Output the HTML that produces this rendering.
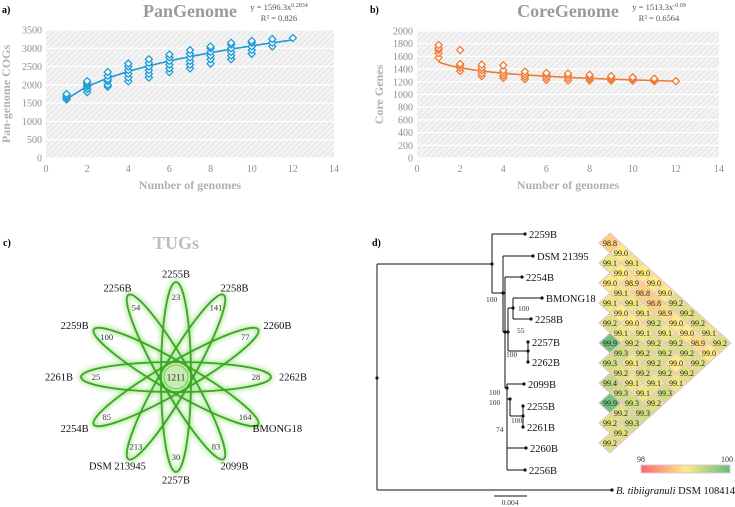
<!DOCTYPE html>
<html><head><meta charset="utf-8"><style>
html,body{margin:0;padding:0;background:#fff;}
svg{display:block;font-family:"Liberation Serif",serif;}
</style></head><body>
<svg id="fig" width="735" height="507" viewBox="0 0 735 507" xmlns="http://www.w3.org/2000/svg">
<defs>
<pattern id="hatch" width="4" height="4" patternUnits="userSpaceOnUse" patternTransform="rotate(45)">
<rect width="4" height="4" fill="#f3f3f3"/><line x1="0" y1="0" x2="0" y2="4" stroke="#d6d6d6" stroke-width="1"/></pattern>
<filter id="glow" x="-20%" y="-20%" width="140%" height="140%"><feGaussianBlur stdDeviation="2"/></filter>
<linearGradient id="cbar" x1="0" x2="1"><stop offset="0" stop-color="#f8696b"/><stop offset="0.5" stop-color="#ffeb84"/><stop offset="1" stop-color="#63be7b"/></linearGradient>
</defs>
<g font-weight="bold" font-size="10">
<text x="2" y="13">a)</text>
<text x="370" y="13">b)</text>
<text x="3" y="246">c)</text>
<text x="372" y="246">d)</text>
</g>
</svg>
<script>
const panN=[1,2,3,4,5,6,7,8,9,10,11,12];
const panVals=[[1600,1650,1700,1750],[1800,1880,1950,2000,2050,2100],[1950,2000,2100,2150,2250,2350],[2100,2200,2300,2400,2500,2580],[2200,2300,2400,2500,2600,2700],[2350,2450,2550,2650,2750,2830],[2450,2550,2650,2750,2850,2950],[2580,2700,2800,2900,3000,3050],[2700,2800,2900,3000,3100,3150],[2850,2950,3050,3150,3200],[3050,3150,3250],[3280]];
const coreVals=[[1580,1650,1700,1730,1780],[1370,1420,1460,1480,1700],[1290,1330,1380,1420,1470],[1260,1300,1340,1380,1460],[1240,1280,1320,1360],[1230,1270,1310,1340],[1220,1260,1300,1330],[1220,1250,1280,1310],[1220,1240,1270,1290],[1220,1240,1270],[1210,1230,1250],[1210]];
const panFit=[1596.3,0.2834];
const coreFit=[1513.3,-0.09];
const xTicks=[0,2,4,6,8,10,12,14];
const panYTicks=[0,500,1000,1500,2000,2500,3000,3500];
const coreYTicks=[0,200,400,600,800,1000,1200,1400,1600,1800,2000];
const heatRows=[[98.8],[99.0],[99.1,99.1],[99.0,99.0],[99.0,98.9,99.0],[99.1,98.8,99.0],[99.1,99.1,98.8,99.2],[99.0,99.1,98.9,99.2],[99.2,99.0,99.2,99.0,99.2],[99.1,99.1,99.1,99.0,99.1],[99.9,99.2,99.2,99.2,98.9,99.2],[99.3,99.2,99.2,99.2,99.0],[99.3,99.1,99.2,99.0,99.2],[99.2,99.2,99.2,99.2],[99.4,99.1,99.1,99.1],[99.3,99.1,99.3],[99.9,99.3,99.2],[99.2,99.3],[99.2,99.3],[99.2],[99.2]];
const vennStrains=['2255B','2258B','2260B','2262B','BMONG18','2099B','2257B','DSM 213945','2254B','2261B','2259B','2256B'];
const vennUnique=[23,141,77,28,164,83,30,213,85,25,100,54];
const vennCore=1211;

const NS='http://www.w3.org/2000/svg';
const svg=document.getElementById('fig');
function mk(tag,attrs,parent){const e=document.createElementNS(NS,tag);for(const k in attrs)e.setAttribute(k,attrs[k]);(parent||svg).appendChild(e);return e;}
function txt(x,y,s,attrs,parent){const e=mk('text',Object.assign({x:x,y:y},attrs||{}),parent);e.textContent=s;return e;}

function chart(opt){
  const g=mk('g',{});
  
  
  const L=opt.x0,R=opt.x1,T=opt.y0,B=opt.y1;
  const sx=v=>L+(v-0)/(14-0)*(R-L);
  const ymax=opt.yTicks[opt.yTicks.length-1];
  const sy=v=>B-v/ymax*(B-T);
  const bg=mk('rect',{x:L,y:T,width:R-L,height:B-T,fill:'url(#hatch)'},g);
  
  
  opt.yTicks.forEach(v=>{
    const gl=mk('line',{x1:L,x2:R,y1:sy(v),y2:sy(v),stroke:'#ffffff','stroke-width':1.2},g);
    
    
    const t=txt(L-4,sy(v)+3.5,String(v),{'font-size':10,fill:'#8c8c8c','text-anchor':'end'},g);
    
    
  });
  xTicks.forEach(v=>{
    const t=txt(sx(v),B+14,String(v),{'font-size':10,fill:'#8c8c8c','text-anchor':'middle'},g);
    
    
  });
  let d='';
  for(let i=0;i<=110;i++){const n=1+i*0.1;d+=(i?'L':'M')+sx(n).toFixed(2)+','+sy(opt.fit[0]*Math.pow(n,opt.fit[1])).toFixed(2);}
  const tl=mk('path',{d:d,fill:'none',stroke:opt.color,'stroke-width':1.6},g);
  
  
  opt.vals.forEach((arr,i)=>{arr.forEach(v=>{
    const x=sx(panN[i]),y=sy(v);
    const m=mk('path',{d:`M${x},${y-3.5}L${x+3.5},${y}L${x},${y+3.5}L${x-3.5},${y}Z`,fill:'#fff',stroke:opt.color,'stroke-width':1.3},g);
    
    
  });});
  const ti=txt((L+R)/2,opt.titleY,opt.title,{'font-size':18,'font-weight':'bold',fill:'#9a9a9a','text-anchor':'middle'},g);
  
  
  const e1=txt(opt.eqX,10,'',{'font-size':8.5,fill:'#555','text-anchor':'middle'},g);
  e1.textContent=opt.eq1;
  const sup=mk('tspan',{dy:-3,'font-size':6},e1);sup.textContent=opt.eqSup;
  
  
  const e2=txt(opt.eqX,21,opt.eq2,{'font-size':8.5,fill:'#555','text-anchor':'middle'},g);
  
  
  const xt=txt((L+R)/2,189,'Number of genomes',{'font-size':12,'font-weight':'bold',fill:'#b0b0b0','text-anchor':'middle'},g);
  
  
  const yt=txt(0,0,opt.yTitle,{'font-size':12,'font-weight':'bold',fill:'#b0b0b0','text-anchor':'middle',transform:`translate(${opt.yTitleX},${(T+B)/2}) rotate(-90)`},g);
  
  
}
chart({name:'pangenome-chart',x0:46,x1:334,y0:30,y1:158,yTicks:panYTicks,vals:panVals,fit:panFit,color:'#1b9ad6',title:'PanGenome',titleY:17,eqX:279,eq1:'y = 1596.3x',eqSup:'0.2834',eq2:'R² = 0.826',yTitle:'Pan-genome COGs',yTitleX:10});
chart({name:'coregenome-chart',x0:417,x1:719,y0:31,y1:158,yTicks:coreYTicks,vals:coreVals,fit:coreFit,color:'#ef7a34',title:'CoreGenome',titleY:17,eqX:659,eq1:'y = 1513.3x',eqSup:'-0.09',eq2:'R² = 0.6564',yTitle:'Core Genes',yTitleX:383});

// Venn
const vg=mk('g',{});


const tt=txt(176,249,'TUGs',{'font-size':18,'font-weight':'bold',fill:'#bdbdbd','text-anchor':'middle'},vg);


const cx=176,cy=377;
for(let k=0;k<6;k++){
  const ang=k*30;
  const gl=mk('ellipse',{cx:cx,cy:cy,rx:15,ry:95,fill:'none',stroke:'#9be27f','stroke-width':5,opacity:0.7,filter:'url(#glow)',transform:`rotate(${ang} ${cx} ${cy})`},vg);
  
  
}
for(let k=0;k<6;k++){
  const ang=k*30;
  const el=mk('ellipse',{cx:cx,cy:cy,rx:15,ry:95,fill:'none',stroke:'#3aa526','stroke-width':1.8,transform:`rotate(${ang} ${cx} ${cy})`},vg);
  
  
}
const cc=mk('circle',{cx:cx,cy:cy,r:12,fill:'#c9eab3',stroke:'#6cc94d','stroke-width':1},vg);


const ct=txt(cx,cy+3.5,String(vennCore),{'font-size':9.5,'text-anchor':'middle',fill:'#333'},vg);


vennStrains.forEach((s,i)=>{
  const a=(i*30-90)*Math.PI/180;
  const lx=cx+Math.cos(a)*(i%3===0?113:117)*(i%6===3?1:1), ly=cy+Math.sin(a)*101;
  const lab=txt(cx+Math.cos(a)*117,cy+Math.sin(a)*103+3.5,s,{'font-size':10.5,'text-anchor':'middle',fill:'#111'},vg);
  
  
  const nm=txt(cx+Math.cos(a)*80,cy+Math.sin(a)*80+3,String(vennUnique[i]),{'font-size':8.5,'text-anchor':'middle',fill:'#333'},vg);
  
  
});

// Tree
const tg=mk('g',{stroke:'#111','stroke-width':1,fill:'none'});


const segs=[[377,264,377,490],[377,264,492,264],[377,490,612,490],[492,234,492,293],[492,234,525,234],[492,293,503,293],[503,256,503,332],[503,256,533,256],[503,332,505,332],[505,277,505,388],[505,277,522,277],[505,332,508,332],[508,308,508,351],[508,308,513,308],[508,351,528,351],[513,298,513,319],[513,298,542,298],[513,319,531,319],[528,342,528,362],[505,388,507,388],[507,384,507,470],[507,448,526,448],[507,470,525,470],[507,384,524,384],[507,399,510,399],[510,399,510,416],[510,416,523,416],[523,406,523,427],[494,496,527,496]];
segs.forEach(s=>{const l=mk('line',{x1:s[0],y1:s[1],x2:s[2],y2:s[3]},tg);

});
const leaves=[['2259B',525,234],['DSM 21395',533,256],['2254B',522,277],['BMONG18',542,298],['2258B',531,319],['2257B',528,342],['2262B',528,362],['2099B',524,384],['2255B',523,406],['2261B',523,427],['2260B',526,448],['2256B',525,470]];
leaves.forEach(l=>{
  const d=mk('circle',{cx:l[1],cy:l[2],r:1.6,fill:'#111',stroke:'none'});
  
  
  const t=txt(l[1]+4,l[2]+4,l[0],{'font-size':10.5,fill:'#111'});
  
  
});
[[377,378],[492,264],[503,293],[505,332],[508,332],[513,308],[528,351],[507,388],[510,399],[523,416],[612,490]].forEach(p=>{
  const d=mk('circle',{cx:p[0],cy:p[1],r:1.6,fill:'#111'});
  
  
});
[['100',486,302],['100',518,311],['55',517,333],['100',506,357],['100',489,395],['100',489,405],['100',511,423],['74',496,432]].forEach(b=>{
  const t=txt(b[1],b[2],b[0],{'font-size':7.5,fill:'#333'});
  
  
});
const sb=txt(510,505,'0.004',{'font-size':7.5,'text-anchor':'middle',fill:'#333'});


const og=txt(616,494,'',{'font-size':10.5,fill:'#111'});
const ogi=mk('tspan',{'font-style':'italic'},og);ogi.textContent='B. tibiigranuli';
const ogr=mk('tspan',{},og);ogr.textContent=' DSM 108414';



// Heatmap
function hcol(v){
  const t=Math.max(0,Math.min(1,(v-98)/2));
  const c0=[248,105,107],c1=[255,235,132],c2=[99,190,123];
  let a,b,u;if(t<0.5){a=c0;b=c1;u=t/0.5;}else{a=c1;b=c2;u=(t-0.5)/0.5;}
  return 'rgb('+a.map((x,i)=>Math.round(x+(b[i]-x)*u)).join(',')+')';
}
const hg=mk('g',{});


heatRows.forEach((row,r)=>{row.forEach((v,i)=>{
  const x=610+11*(r%2)+22*i,y=243+10*r;
  const c=mk('path',{d:`M${x},${y-10}L${x+11},${y}L${x},${y+10}L${x-11},${y}Z`,fill:hcol(v),stroke:'#e3c3e0','stroke-width':1},hg);
  
  
  const t=txt(x,y+3,v.toFixed(1),{'font-size':8,'text-anchor':'middle',fill:'#222'},hg);
  
  
});});
const cb=mk('rect',{x:641,y:465,width:89,height:8,fill:'url(#cbar)',stroke:'#e3c3e0','stroke-width':1},hg);


const c98=txt(641,462,'98',{'font-size':8,'text-anchor':'middle',fill:'#333'},hg);


const c100=txt(727,462,'100',{'font-size':8,'text-anchor':'middle',fill:'#333'},hg);


</script>
</body></html>
